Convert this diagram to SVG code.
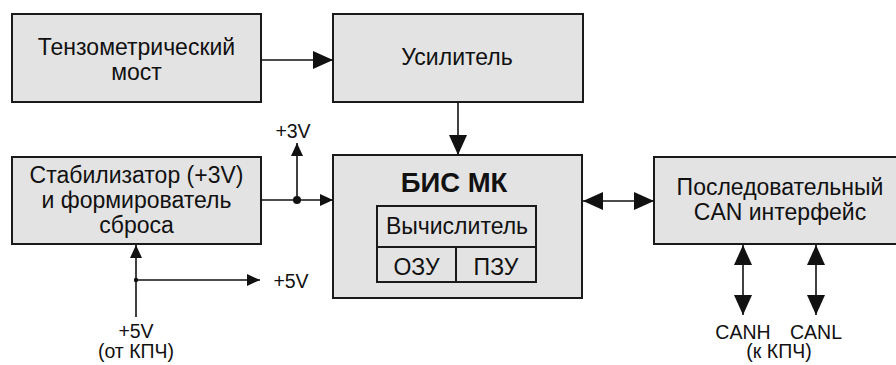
<svg xmlns="http://www.w3.org/2000/svg" width="896" height="365" viewBox="0 0 896 365">
<style>
.box{fill:#e3e3e3;stroke:#1a1a1a;stroke-width:2}
.in{fill:none;stroke:#1a1a1a;stroke-width:2}
.t{font-family:"Liberation Sans",Arial,sans-serif;font-size:23px;fill:#111;text-anchor:middle}
.l{font-family:"Liberation Sans",Arial,sans-serif;font-size:19.5px;fill:#111;text-anchor:middle}
.b{font-family:"Liberation Sans",Arial,sans-serif;font-size:27.5px;font-weight:bold;fill:#111;text-anchor:middle}
.c{fill:none;stroke:#111;stroke-width:1.6}
</style>
<defs>
<marker id="big" viewBox="0 0 20 18" refX="20" refY="9" markerWidth="20" markerHeight="18" markerUnits="userSpaceOnUse" orient="auto-start-reverse"><path d="M0,0 L20,9 L0,18 Z" fill="#111"/></marker>
<marker id="small" viewBox="0 0 13 12" refX="13" refY="6" markerWidth="13" markerHeight="12" markerUnits="userSpaceOnUse" orient="auto-start-reverse"><path d="M0,0 L13,6 L0,12 Z" fill="#111"/></marker>
</defs>
<g id="bridge"><rect class="box" x="12" y="14" width="249" height="88"/><text class="t" x="136.5" y="55">Тензометрический</text><text class="t" x="136.5" y="80">мост</text></g>
<g id="amp"><rect class="box" x="333" y="14" width="250" height="88"/><text class="t" x="457" y="65">Усилитель</text></g>
<g id="stab"><rect class="box" x="12" y="157" width="249" height="87"/><text class="t" x="136.5" y="183">Стабилизатор (+3V)</text><text class="t" x="136.5" y="208">и формирователь</text><text class="t" x="136.5" y="233">сброса</text></g>
<g id="mcu"><rect class="box" x="333" y="155" width="249" height="143"/><text class="b" x="454" y="192">БИС МК</text>
<rect class="in" x="377" y="206" width="159" height="76"/><line class="in" x1="377" y1="247" x2="536" y2="247"/><line class="in" x1="456" y1="247" x2="456" y2="282"/>
<text class="t" x="457" y="234">Вычислитель</text><text class="t" x="416.5" y="275">ОЗУ</text><text class="t" x="496" y="275">ПЗУ</text></g>
<g id="can"><rect class="box" x="654" y="157" width="250" height="87"/><text class="t" x="780" y="195">Последовательный</text><text class="t" x="780" y="220">CAN интерфейс</text></g>
<g id="connectors">
<line class="c" x1="261" y1="60" x2="333" y2="60" marker-end="url(#big)"/>
<line class="c" x1="458" y1="102" x2="458" y2="155" marker-end="url(#big)"/>
<line class="c" x1="261" y1="200" x2="333" y2="200" marker-end="url(#small)"/>
<line class="c" x1="297" y1="200" x2="297" y2="143" marker-end="url(#small)"/>
<circle cx="297" cy="200" r="4" fill="#111"/>
<line class="c" x1="583" y1="201" x2="654" y2="201" marker-start="url(#big)" marker-end="url(#big)"/>
<line class="c" x1="136" y1="317" x2="136" y2="245" marker-end="url(#small)"/>
<line class="c" x1="136" y1="280" x2="260" y2="280" marker-end="url(#small)"/>
<circle cx="136" cy="280" r="2.2" fill="#111"/>
<line class="c" x1="743" y1="245" x2="743" y2="315" marker-start="url(#big)" marker-end="url(#big)"/>
<line class="c" x1="816" y1="245" x2="816" y2="315" marker-start="url(#big)" marker-end="url(#big)"/>
</g>
<g id="labels">
<text class="l" x="293" y="138">+3V</text>
<text class="l" x="291" y="288">+5V</text>
<text class="l" x="136" y="338">+5V</text>
<text class="l" x="136" y="358">(от КПЧ)</text>
<text class="l" x="743" y="339">CANH</text>
<text class="l" x="816" y="339">CANL</text>
<text class="l" x="779" y="358">(к КПЧ)</text>
</g>
</svg>
